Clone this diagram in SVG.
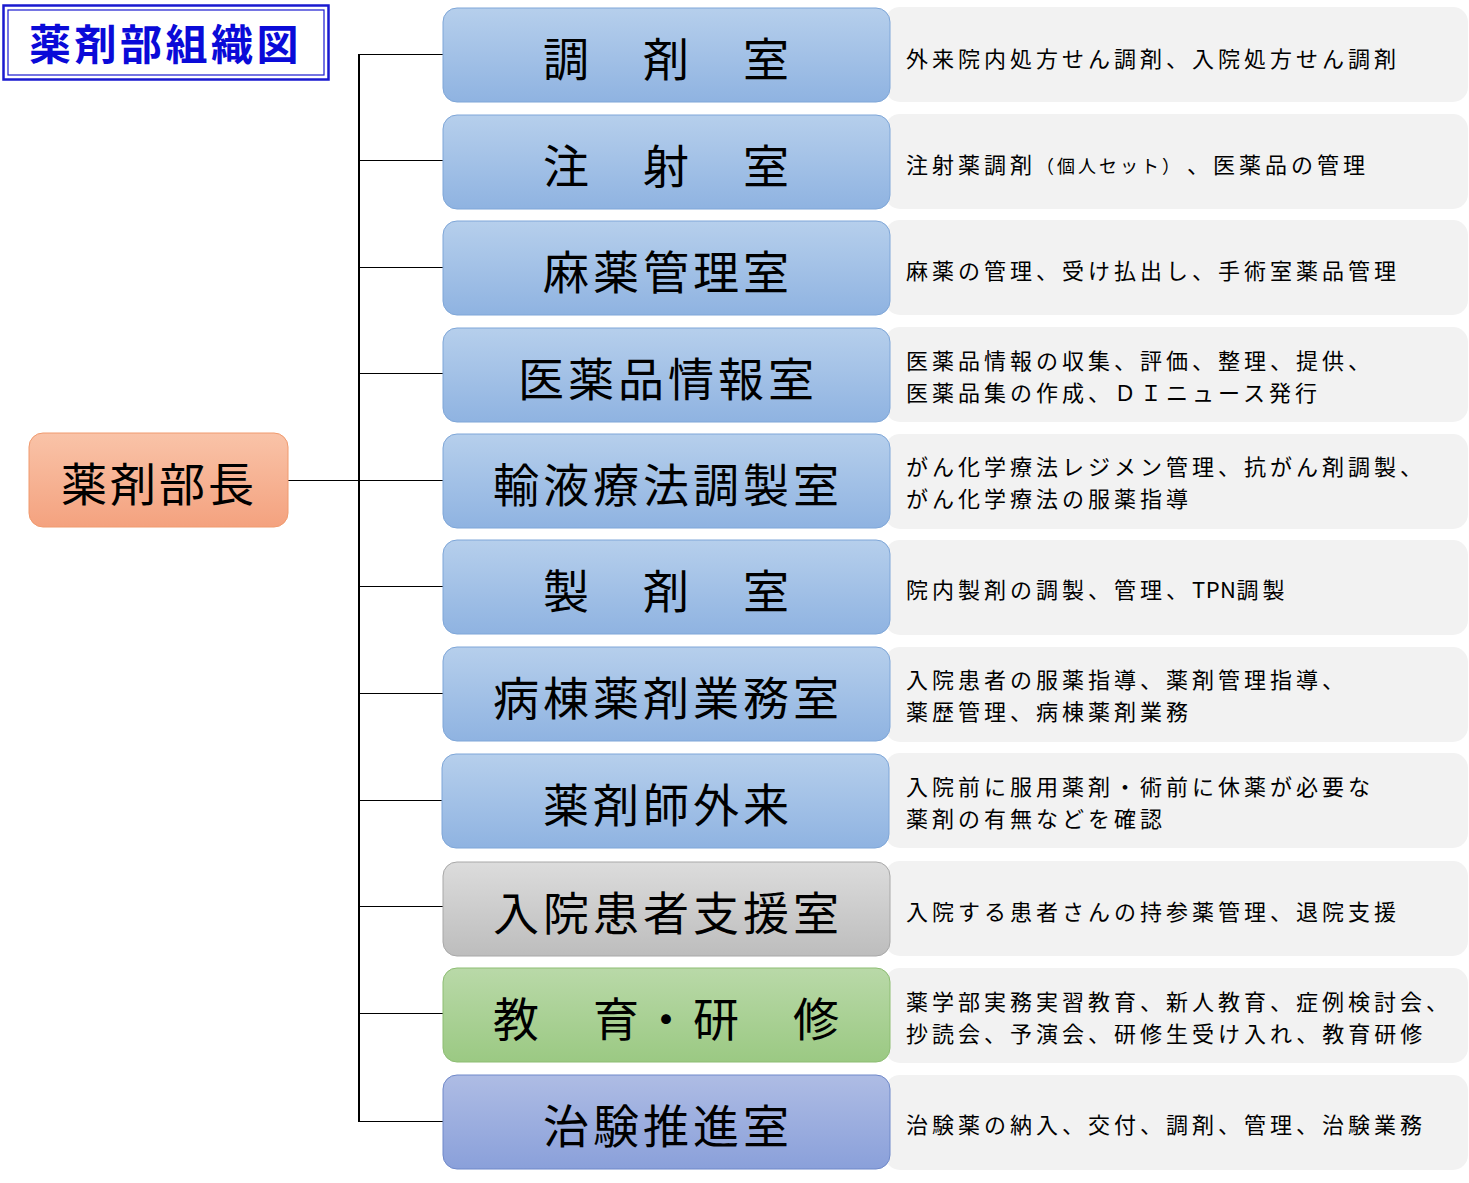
<svg xmlns="http://www.w3.org/2000/svg" width="1469" height="1183" viewBox="0 0 1469 1183">
<defs>
<linearGradient id="gBlue" x1="0" y1="0" x2="0" y2="1"><stop offset="0" stop-color="#b6cfec"/><stop offset="1" stop-color="#8fb3e1"/></linearGradient>
<linearGradient id="gOrange" x1="0" y1="0" x2="0" y2="1"><stop offset="0" stop-color="#f9c3a8"/><stop offset="1" stop-color="#f4a27f"/></linearGradient>
<linearGradient id="gGray" x1="0" y1="0" x2="0" y2="1"><stop offset="0" stop-color="#dcdcdc"/><stop offset="1" stop-color="#bdbdbd"/></linearGradient>
<linearGradient id="gGreen" x1="0" y1="0" x2="0" y2="1"><stop offset="0" stop-color="#b9d9a8"/><stop offset="1" stop-color="#9bc983"/></linearGradient>
<linearGradient id="gPurple" x1="0" y1="0" x2="0" y2="1"><stop offset="0" stop-color="#aebce4"/><stop offset="1" stop-color="#8aa0da"/></linearGradient>
</defs>
<style>
.box{stroke-width:1}
.blue{fill:url(#gBlue);stroke:#7ea6d8}
.orange{fill:url(#gOrange);stroke:#f09a6e}
.gray{fill:url(#gGray);stroke:#a8a8a8}
.green{fill:url(#gGreen);stroke:#8dbd73}
.purple{fill:url(#gPurple);stroke:#6f88c9}
.desc{fill:#f2f2f2}
text{text-spacing-trim:space-all}
.big{font-family:"Noto Sans CJK JP","Noto Sans CJK SC",sans-serif;font-size:46px;letter-spacing:4px;fill:#000}
.small{font-family:"Noto Sans CJK JP","Noto Sans CJK SC",sans-serif;font-size:22px;letter-spacing:4px;fill:#000}
.title{font-family:"Noto Sans CJK JP","Noto Sans CJK SC",sans-serif;font-size:42px;font-weight:bold;letter-spacing:3.5px;fill:#0a0ad8}
.conn{stroke:#000;fill:none}
.h{stroke-width:1}
</style>
<rect width="1469" height="1183" fill="#ffffff"/>

<g id="title">
<rect x="3.5" y="5.5" width="325" height="74" fill="#fff" stroke="#1a1ad0" stroke-width="2.5"/>
<rect x="8" y="10" width="316" height="65" fill="none" stroke="#1a1ad0" stroke-width="1.2"/>
<text class="title" x="29" y="60">薬剤部組織図</text>
</g>

<g id="connectors">
<line class="conn" x1="359" y1="54" x2="359" y2="1122" stroke-width="2"/>
<line class="conn h" x1="288" y1="480.5" x2="359" y2="480.5"/>
<line class="conn h" x1="359" y1="54.5" x2="443" y2="54.5"/>
<line class="conn h" x1="359" y1="160.5" x2="443" y2="160.5"/>
<line class="conn h" x1="359" y1="267.5" x2="443" y2="267.5"/>
<line class="conn h" x1="359" y1="373.5" x2="443" y2="373.5"/>
<line class="conn h" x1="359" y1="480.5" x2="443" y2="480.5"/>
<line class="conn h" x1="359" y1="586.5" x2="443" y2="586.5"/>
<line class="conn h" x1="359" y1="693.5" x2="443" y2="693.5"/>
<line class="conn h" x1="359" y1="800.5" x2="443" y2="800.5"/>
<line class="conn h" x1="359" y1="906.5" x2="443" y2="906.5"/>
<line class="conn h" x1="359" y1="1013.5" x2="443" y2="1013.5"/>
<line class="conn h" x1="359" y1="1121.5" x2="443" y2="1121.5"/>
</g>

<g id="head">
<rect class="box orange" x="29" y="433" width="259" height="94" rx="14"/>
<text class="big" x="61" y="501" style="letter-spacing:3px">薬剤部長</text>
</g>

<g id="row1">
<rect class="desc" x="885" y="7" width="583" height="95" rx="15"/>
<rect class="box blue" x="443" y="8" width="447" height="94" rx="14"/>
<text class="big" x="543" y="76">調　剤　室</text>
<text class="small" x="906" y="67">外来院内処方せん調剤、入院処方せん調剤</text>
</g>

<g id="row2">
<rect class="desc" x="885" y="114" width="583" height="95" rx="15"/>
<rect class="box blue" x="443" y="115" width="447" height="94" rx="14"/>
<text class="big" x="543" y="183">注　射　室</text>
<text class="small" x="906" y="173">注射薬調剤<tspan style="font-size:18px;letter-spacing:3px">（個人セット）</tspan><tspan dx="4">、医薬品の管理</tspan></text>
</g>

<g id="row3">
<rect class="desc" x="885" y="220" width="583" height="95" rx="15"/>
<rect class="box blue" x="443" y="221" width="447" height="94" rx="14"/>
<text class="big" x="543" y="289">麻薬管理室</text>
<text class="small" x="906" y="279">麻薬の管理、受け払出し、手術室薬品管理</text>
</g>

<g id="row4">
<rect class="desc" x="885" y="327" width="583" height="95" rx="15"/>
<rect class="box blue" x="443" y="328" width="447" height="94" rx="14"/>
<text class="big" x="518" y="396">医薬品情報室</text>
<text class="small" x="906" y="368.5">医薬品情報の収集、評価、整理、提供、<tspan x="906" dy="32">医薬品集の作成、ＤＩニュース発行</tspan></text>
</g>

<g id="row5">
<rect class="desc" x="885" y="434" width="583" height="95" rx="15"/>
<rect class="box blue" x="443" y="434" width="447" height="94" rx="14"/>
<text class="big" x="493" y="502">輸液療法調製室</text>
<text class="small" x="906" y="474.5">がん化学療法レジメン管理、抗がん剤調製、<tspan x="906" dy="32">がん化学療法の服薬指導</tspan></text>
</g>

<g id="row6">
<rect class="desc" x="885" y="540" width="583" height="95" rx="15"/>
<rect class="box blue" x="443" y="540" width="447" height="94" rx="14"/>
<text class="big" x="543" y="608">製　剤　室</text>
<text class="small" x="906" y="598">院内製剤の調製、管理、<tspan style="letter-spacing:0.5px">TPN</tspan>調製</text>
</g>

<g id="row7">
<rect class="desc" x="885" y="647" width="583" height="95" rx="15"/>
<rect class="box blue" x="443" y="647" width="447" height="94" rx="14"/>
<text class="big" x="493" y="715">病棟薬剤業務室</text>
<text class="small" x="906" y="687.5">入院患者の服薬指導、薬剤管理指導、<tspan x="906" dy="32">薬歴管理、病棟薬剤業務</tspan></text>
</g>

<g id="row8">
<rect class="desc" x="885" y="753" width="583" height="95" rx="15"/>
<rect class="box blue" x="442" y="754" width="447" height="94" rx="14"/>
<text class="big" x="543" y="822">薬剤師外来</text>
<text class="small" x="906" y="794.5">入院前に服用薬剤・術前に休薬が必要な<tspan x="906" dy="32">薬剤の有無などを確認</tspan></text>
</g>

<g id="row9">
<rect class="desc" x="885" y="861" width="583" height="95" rx="15"/>
<rect class="box gray" x="443" y="862" width="447" height="94" rx="14"/>
<text class="big" x="493" y="930">入院患者支援室</text>
<text class="small" x="906" y="920">入院する患者さんの持参薬管理、退院支援</text>
</g>

<g id="row10">
<rect class="desc" x="885" y="968" width="583" height="95" rx="15"/>
<rect class="box green" x="443" y="968" width="447" height="94" rx="14"/>
<text class="big" x="493" y="1036">教　育・研　修</text>
<text class="small" x="906" y="1009.5">薬学部実務実習教育、新人教育、症例検討会、<tspan x="906" dy="32">抄読会、予演会、研修生受け入れ、教育研修</tspan></text>
</g>

<g id="row11">
<rect class="desc" x="885" y="1075" width="583" height="95" rx="15"/>
<rect class="box purple" x="443" y="1075" width="447" height="94" rx="14"/>
<text class="big" x="543" y="1143">治験推進室</text>
<text class="small" x="906" y="1133">治験薬の納入、交付、調剤、管理、治験業務</text>
</g>
</svg>
